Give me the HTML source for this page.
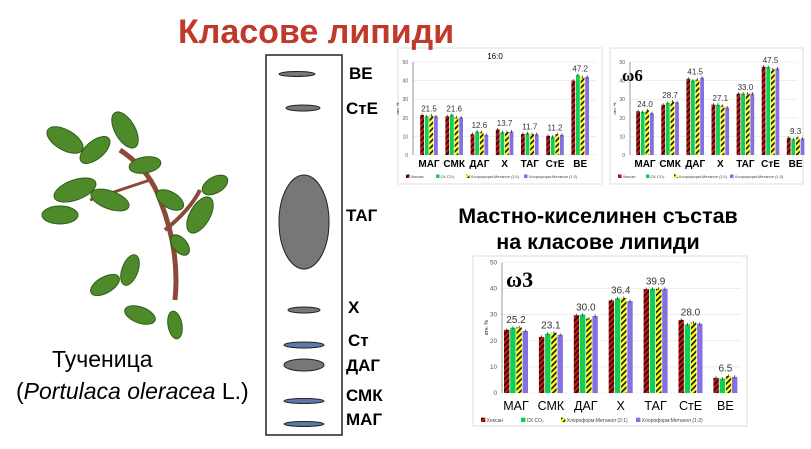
<!DOCTYPE html>
<html><head><meta charset="utf-8"><style>
body{margin:0;width:811px;height:449px;background:#fff;overflow:hidden;position:relative;font-family:"Liberation Sans",sans-serif}
.t{position:absolute;white-space:nowrap}
</style></head><body>
<svg id="s" width="811" height="449" style="position:absolute;left:0;top:0" xmlns="http://www.w3.org/2000/svg">
<defs>
<pattern id="hr" width="4" height="4" patternUnits="userSpaceOnUse" patternTransform="rotate(45)"><rect width="4" height="4" fill="#d01010"/><rect width="1.6" height="4" fill="#111"/></pattern>
<pattern id="hy" width="4" height="4" patternUnits="userSpaceOnUse" patternTransform="rotate(45)"><rect width="4" height="4" fill="#ffff00"/><rect width="1.6" height="4" fill="#111"/></pattern>
</defs>
<g fill="#4e8a2a" stroke="#2f5e18" stroke-width="1">
<path d="M175 300 Q180 250 160 200 Q150 170 120 150" fill="none" stroke="#8a4a3a" stroke-width="5"/>
<path d="M165 230 Q190 210 200 190" fill="none" stroke="#8a4a3a" stroke-width="4"/>
<path d="M150 180 Q120 190 90 200" fill="none" stroke="#8a4a3a" stroke-width="3"/>
<ellipse cx="65" cy="140" rx="20" ry="10" transform="rotate(30 65 140)"/>
<ellipse cx="95" cy="150" rx="18" ry="9" transform="rotate(-40 95 150)"/>
<ellipse cx="125" cy="130" rx="20" ry="10" transform="rotate(60 125 130)"/>
<ellipse cx="145" cy="165" rx="16" ry="8" transform="rotate(-10 145 165)"/>
<ellipse cx="75" cy="190" rx="22" ry="10" transform="rotate(-20 75 190)"/>
<ellipse cx="110" cy="200" rx="20" ry="9" transform="rotate(20 110 200)"/>
<ellipse cx="60" cy="215" rx="18" ry="9"/>
<ellipse cx="200" cy="215" rx="20" ry="10" transform="rotate(-60 200 215)"/>
<ellipse cx="215" cy="185" rx="14" ry="8" transform="rotate(-30 215 185)"/>
<ellipse cx="170" cy="200" rx="15" ry="8" transform="rotate(30 170 200)"/>
<ellipse cx="130" cy="270" rx="16" ry="8" transform="rotate(-70 130 270)"/>
<ellipse cx="105" cy="285" rx="16" ry="8" transform="rotate(-30 105 285)"/>
<ellipse cx="140" cy="315" rx="16" ry="8" transform="rotate(20 140 315)"/>
<ellipse cx="175" cy="325" rx="14" ry="7" transform="rotate(80 175 325)"/>
<ellipse cx="180" cy="245" rx="12" ry="7" transform="rotate(50 180 245)"/>
</g>
<rect x="266" y="55" width="76" height="380" fill="#fff" stroke="#222" stroke-width="1.5"/>
<g fill="#777" stroke="#222" stroke-width="1">
<ellipse cx="297" cy="74" rx="18" ry="2.5"/>
<ellipse cx="303" cy="108" rx="17" ry="3"/>
<ellipse cx="304" cy="222" rx="25" ry="47"/>
<ellipse cx="304" cy="310" rx="16" ry="3"/>
<ellipse cx="304" cy="345" rx="20" ry="3" fill="#5a78a8"/>
<ellipse cx="304" cy="365" rx="20" ry="6"/>
<ellipse cx="304" cy="401" rx="20" ry="2.5" fill="#5a78a8"/>
<ellipse cx="304" cy="424" rx="20" ry="2.5" fill="#5a78a8"/>
</g>
<g id="charts"></g>
</svg>
<div class="t" style="left:178px;top:13px;font-size:34px;font-weight:bold;color:#c0392b">Класове липиди</div>
<div class="t" style="left:349px;top:64px;font-size:17px;font-weight:bold">ВЕ</div>
<div class="t" style="left:346px;top:99px;font-size:17px;font-weight:bold">СтЕ</div>
<div class="t" style="left:346px;top:206px;font-size:17px;font-weight:bold">ТАГ</div>
<div class="t" style="left:348px;top:298px;font-size:17px;font-weight:bold">Х</div>
<div class="t" style="left:348px;top:331px;font-size:17px;font-weight:bold">Ст</div>
<div class="t" style="left:346px;top:356px;font-size:17px;font-weight:bold">ДАГ</div>
<div class="t" style="left:346px;top:386px;font-size:17px;font-weight:bold">СМК</div>
<div class="t" style="left:346px;top:410px;font-size:17px;font-weight:bold">МАГ</div>
<div class="t" style="left:52px;top:346px;font-size:23px">Тученица</div>
<div class="t" style="left:16px;top:378px;font-size:23px">(<i>Portulaca oleracea</i> L.)</div>
<div class="t" style="left:440px;top:203px;width:316px;text-align:center;font-size:21.5px;font-weight:bold;line-height:26px">Мастно-киселинен състав<br>на класове липиди</div>
<script>
const cats=["МАГ","СМК","ДАГ","Х","ТАГ","СтЕ","ВЕ"];
const fills=["url(#hr)","#10d050","url(#hy)","#8470e0"];
function chart(o){
 let h=`<rect x="${o.bx}" y="${o.by}" width="${o.bw}" height="${o.bh}" fill="#fff" stroke="#ddd"/>`;
 const Y=v=>o.y0-(v/10)*o.u;
 for(let v=0;v<=50;v+=10){h+=`<line x1="${o.ax}" x2="${o.bx+o.bw-6}" y1="${Y(v)}" y2="${Y(v)}" stroke="#e4e4e4" stroke-width="0.6"/><text x="${o.ax-5}" y="${Y(v)+2}" font-size="${o.fs*0.5}" text-anchor="end" fill="#555">${v}</text>`;}
 h+=`<line x1="${o.ax}" x2="${o.ax}" y1="${Y(50)}" y2="${o.y0}" stroke="#555" stroke-width="0.6"/>`;
 o.d.forEach((g,i)=>{const cx=o.c0+i*o.sp;
  g.forEach((v,j)=>{const x=cx-2*o.w+j*o.w;h+=`<rect x="${x+0.4}" y="${Y(v)}" width="${o.w-0.8}" height="${o.y0-Y(v)}" fill="${fills[j]}"/><line x1="${x+o.w/2}" x2="${x+o.w/2}" y1="${Y(v)-1.5}" y2="${Y(v)+1.5}" stroke="#222" stroke-width="0.7"/>`;});
  const m=Math.max(...g);h+=`<text x="${cx}" y="${Y(m)-o.fs*0.35}" font-size="${o.fs*0.8}" text-anchor="middle" fill="#333">${o.lab[i]}</text>`;
  h+=`<text x="${cx}" y="${o.ly}" font-size="${o.fs}" font-weight="${o.bold}" text-anchor="middle">${cats[i]}</text>`;});
 const lt=["Хексан","СК CO₂","Хлороформ:Метанол (2:1)","Хлороформ:Метанол (1:2)"];let lx=o.bx+8;
 lt.forEach((t,j)=>{h+=`<rect x="${lx}" y="${o.ley-o.fs*0.35}" width="${o.fs*0.35}" height="${o.fs*0.35}" fill="${fills[j]}"/><text x="${lx+o.fs*0.45}" y="${o.ley}" font-size="${o.fs*0.4}" fill="#444">${t}</text>`;lx+=o.lw[j];});
 h+=`<text x="${o.ax-14}" y="${(Y(50)+o.y0)/2}" font-size="${o.fs*0.4}" transform="rotate(-90 ${o.ax-14} ${(Y(50)+o.y0)/2})" text-anchor="middle">отн. %</text>`;
 if(o.title)h+=o.title;
 return h;}
let H="";
H+=chart({bx:398,by:48,bw:204,bh:136,ax:413,y0:155,u:18.6,c0:429,sp:25.2,w:4.6,fs:10,bold:"bold",ly:167,ley:178,lw:[30,30,58,60],
 d:[[21.5,20.8,21.3,20.8],[20.8,21.6,20.2,20.2],[11.2,12.6,12.4,10.8],[13.7,12.3,12.3,12.6],[11.3,11.7,11.2,11.2],[10.3,9.8,11.2,10.8],[40,43,41.8,42]],
 lab:["21.5","21.6","12.6","13.7","11.7","11.2","47.2"],title:`<text x="495" y="59" font-size="8" text-anchor="middle">16:0</text>`});
H+=chart({bx:610,by:48,bw:193,bh:136,ax:630,y0:155,u:18.6,c0:645,sp:25.1,w:4.6,fs:10,bold:"bold",ly:167,ley:178,lw:[28,28,56,60],
 d:[[23.5,23.2,24,22.5],[27,28,28.7,28.3],[41,40,40.5,41.5],[27.1,27,26.5,25.5],[33,33,33,33],[47.5,47.3,46,46.5],[9.3,8.5,9.3,8.8]],
 lab:["24.0","28.7","41.5","27.1","33.0","47.5","9.3"],title:`<text x="622" y="81" font-size="17" font-weight="bold" font-family="Liberation Serif">ω6</text>`});
H+=chart({bx:473,by:256,bw:274,bh:170,ax:502,y0:393,u:26.1,c0:516,sp:34.9,w:6.2,fs:12.5,bold:"normal",ly:410,ley:422,lw:[40,40,75,80],
 d:[[24.2,25,25.2,23.8],[21.5,22.7,23.1,22.3],[29.8,30,28.5,29.5],[35.5,36.3,36.4,35.2],[39.8,39.9,39.9,39.9],[28,26.3,27,26.5],[5.8,5.5,6.5,6.2]],
 lab:["25.2","23.1","30.0","36.4","39.9","28.0","6.5"],title:`<text x="506" y="287" font-size="22" font-weight="bold" font-family="Liberation Serif">ω3</text>`});
document.getElementById("charts").innerHTML=H;
</script>
</body></html>
